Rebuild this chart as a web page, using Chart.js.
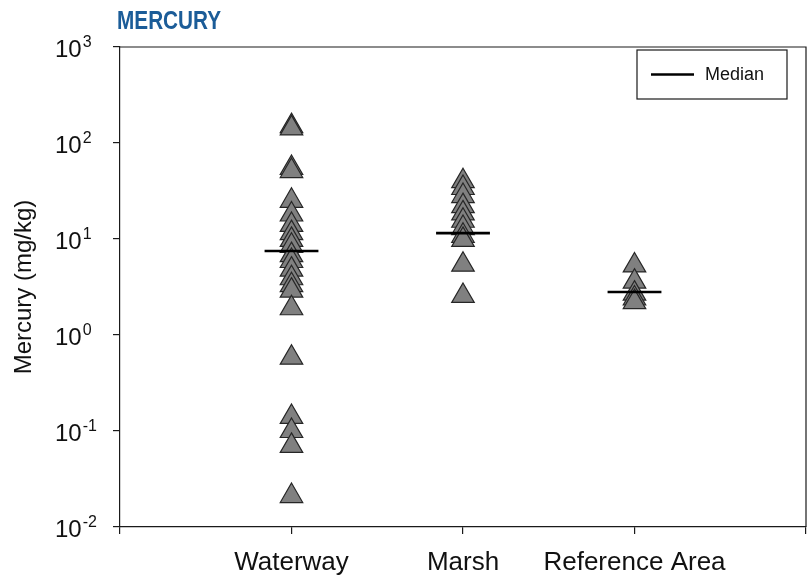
<!DOCTYPE html>
<html>
<head>
<meta charset="utf-8">
<script src="https://cdn.jsdelivr.net/npm/chart.js@4.4.1/dist/chart.umd.min.js"></script>
<style>
  html, body { margin: 0; padding: 0; background: #ffffff; }
  #wrap { position: relative; width: 812px; height: 580px; }
  #title {
    position: absolute; left: 117px; top: 6px;
    font-family: "Liberation Sans", Arial, sans-serif;
    font-weight: bold; font-size: 25px; color: #1b5c98;
    transform: scaleX(0.83); transform-origin: 0 0; white-space: nowrap;
  }
  canvas { position: absolute; left: 0; top: 0; }
</style>
</head>
<body>
<div id="wrap">
  <canvas id="chart" width="812" height="580"></canvas>
  <div id="title">MERCURY</div>
</div>
<script>
// Sampling groups along the x axis
const categories = ['Waterway', 'Marsh', 'Reference Area'];

// Mercury concentrations (mg/kg) for each group
const waterway = [150, 142, 55, 51, 25, 18, 14, 11.5, 9.8, 8.5, 6.8, 5.9, 4.8, 3.9, 3.3, 2.9, 1.9, 0.58, 0.14, 0.10, 0.07, 0.021];
const marsh = [40, 34, 28, 22, 18.5, 15.5, 13, 10.8, 9.8, 5.4, 2.55];
const referenceArea = [5.3, 3.6, 2.7, 2.4, 2.2];

// Median of each group
const medians = [7.5, 11.5, 2.8];

// Axis ticks
const yTickExponents = [-2, -1, 0, 1, 2, 3];
const xTickPositions = [0, 1, 2, 3, 4];

const groups = [waterway, marsh, referenceArea];
const MEDIAN_HALF_WIDTH = 0.157;

const samplePoints = groups.flatMap((vals, i) => vals.map(v => ({ x: i + 1, y: v })));
const medianPoints = medians.flatMap((m, i) => [
  { x: i + 1 - MEDIAN_HALF_WIDTH, y: m },
  { x: i + 1 + MEDIAN_HALF_WIDTH, y: m },
  { x: i + 1.5, y: null }
]);

const FONT = '"Liberation Sans", Arial, sans-serif';

// Frame around the plotting area (top and right sides)
const frame = {
  id: 'frame',
  afterDraw(chart) {
    const { ctx, chartArea: a } = chart;
    ctx.save();
    ctx.strokeStyle = '#1a1a1a';
    ctx.lineWidth = 1.2;
    ctx.beginPath();
    ctx.moveTo(a.left, a.top);
    ctx.lineTo(a.right, a.top);
    ctx.lineTo(a.right, a.bottom);
    ctx.stroke();
    ctx.restore();
  }
};

// Power-of-ten labels with raised exponents on the log axis
const powerLabels = {
  id: 'powerLabels',
  afterDraw(chart) {
    const { ctx } = chart;
    const y = chart.scales.y;
    ctx.save();
    ctx.fillStyle = '#111';
    ctx.textAlign = 'left';
    ctx.textBaseline = 'alphabetic';
    yTickExponents.forEach(e => {
      const py = y.getPixelForValue(Math.pow(10, e));
      ctx.font = '24px ' + FONT;
      const x0 = 55;
      ctx.fillText('10', x0, py + 9.5);
      const w = ctx.measureText('10').width;
      ctx.font = '16px ' + FONT;
      ctx.fillText(String(e), x0 + w + 1, py);
    });
    ctx.restore();
  }
};

// Boxed legend in the upper right of the plot
const medianLegend = {
  id: 'medianLegend',
  afterDraw(chart) {
    const { ctx, chartArea: a } = chart;
    const ds = chart.data.datasets.find(d => d.type === 'line');
    const right = a.right - 19, top = a.top + 3, w = 150, h = 49;
    const left = right - w;
    ctx.save();
    ctx.fillStyle = '#ffffff';
    ctx.fillRect(left, top, w, h);
    ctx.strokeStyle = '#1a1a1a';
    ctx.lineWidth = 1.2;
    ctx.strokeRect(left, top, w, h);
    const cy = top + h / 2;
    ctx.strokeStyle = ds.borderColor;
    ctx.lineWidth = ds.borderWidth;
    ctx.beginPath();
    ctx.moveTo(left + 14, cy);
    ctx.lineTo(left + 57, cy);
    ctx.stroke();
    ctx.fillStyle = '#111';
    ctx.font = '18px ' + FONT;
    ctx.textBaseline = 'middle';
    ctx.textAlign = 'left';
    ctx.fillText(ds.label, left + 68, cy + 1);
    ctx.restore();
  }
};

new Chart(document.getElementById('chart'), {
  data: {
    datasets: [
      {
        type: 'line',
        label: 'Median',
        data: medianPoints,
        borderColor: '#000000',
        borderWidth: 2.6,
        pointRadius: 0,
        spanGaps: false,
        fill: false,
        order: 0
      },
      {
        type: 'scatter',
        label: 'Samples',
        data: samplePoints,
        pointStyle: 'triangle',
        pointRadius: 13,
        pointHoverRadius: 13,
        backgroundColor: '#808080',
        borderColor: '#262626',
        borderWidth: 1.2,
        order: 1
      }
    ]
  },
  options: {
    responsive: false,
    animation: false,
    events: [],
    layout: { autoPadding: false, padding: { top: 47, right: 6, bottom: 0, left: 0 } },
    plugins: { legend: { display: false }, tooltip: { enabled: false } },
    scales: {
      x: {
        type: 'linear',
        min: 0,
        max: 4,
        afterBuildTicks: s => { s.ticks = xTickPositions.map(v => ({ value: v })); },
        afterFit: s => { s.height = 53; },
        ticks: {
          callback: v => categories[v - 1] ?? '',
          font: { family: FONT, size: 26, lineHeight: 1.72 },
          color: '#111',
          padding: 6,
          maxRotation: 0,
          autoSkip: false
        },
        grid: { drawOnChartArea: false, drawTicks: true, tickLength: 7, color: '#1a1a1a', lineWidth: 1.2 },
        border: { color: '#1a1a1a', width: 1.2 }
      },
      y: {
        type: 'logarithmic',
        min: 0.01,
        max: 1000,
        afterBuildTicks: s => { s.ticks = yTickExponents.map(e => ({ value: Math.pow(10, e) })); },
        afterFit: s => { s.width = 120; },
        ticks: { display: false },
        grid: { drawOnChartArea: false, drawTicks: true, tickLength: 7, color: '#1a1a1a', lineWidth: 1.2 },
        border: { color: '#1a1a1a', width: 1.2 },
        title: {
          display: true,
          text: 'Mercury (mg/kg)',
          font: { family: FONT, size: 24 },
          color: '#111',
          padding: { top: 10, bottom: 0 }
        }
      }
    }
  },
  plugins: [frame, powerLabels, medianLegend]
});
</script>
</body>
</html>
